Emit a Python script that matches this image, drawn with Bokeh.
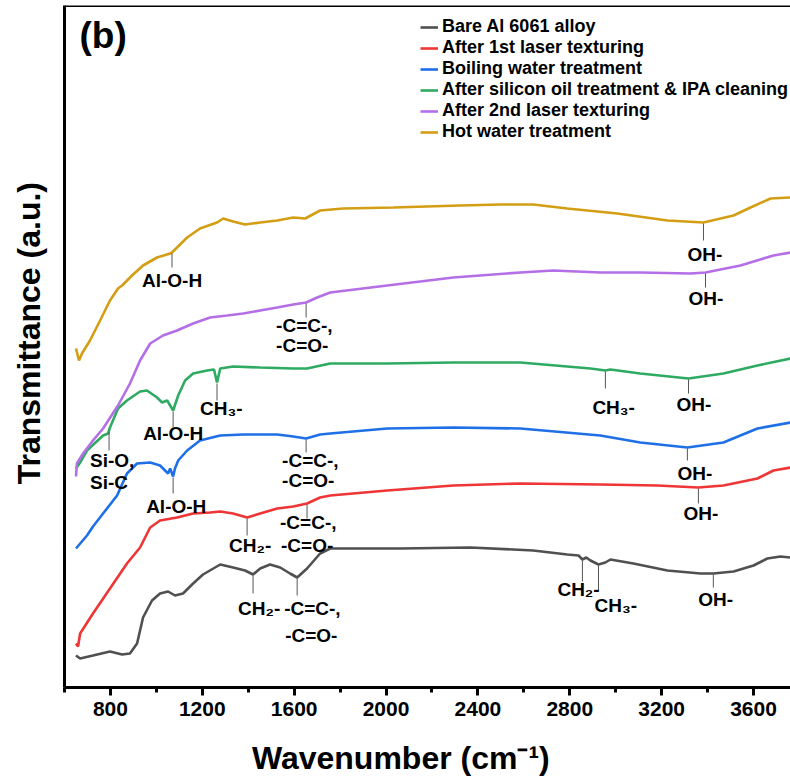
import numpy as np
from bokeh.plotting import figure
from bokeh.models import Range1d, FixedTicker, Label, Legend, LegendItem, Span
from bokeh.embed import file_html
from bokeh.resources import INLINE

# ---------------- data (wavenumber cm-1, transmittance a.u.) ----------------
wn_bare = [650, 668, 724, 798, 851, 885, 916, 942, 981, 1016, 1051, 1081, 1116, 1160, 1203, 1278,
           1334, 1386, 1421, 1452, 1495, 1539, 1582, 1613, 1656, 1713, 1757, 2062, 2367, 2641,
           2789, 2838, 2855, 2872, 2890, 2925, 2955, 2977, 3077, 3225, 3369, 3425, 3513, 3600,
           3660, 3717, 3761]
t_bare = [32, 29, 32, 36, 33, 34, 44, 70, 87, 94, 96, 92, 94, 104, 113, 123,
          120, 117, 113, 119, 123, 120, 114, 110, 119, 134, 139, 139, 140, 137,
          133, 132, 128, 130, 127, 123, 125, 128, 124, 117, 114, 114, 116, 122,
          129, 131, 130]

wn_laser1 = [650, 659, 668, 724, 798, 872, 929, 973, 1016, 1090, 1160, 1234, 1278, 1334, 1395,
             1452, 1526, 1596, 1656, 1713, 1757, 2005, 2293, 2585, 2933, 3181, 3360, 3469, 3617,
             3687, 3761]
t_laser1 = [44, 41, 54, 74, 99, 124, 140, 160, 167, 170, 174, 175, 176, 174, 170,
            174, 179, 181, 184, 190, 192, 197, 202, 204, 203, 202, 200, 202, 209,
            217, 220]

wn_boil = [650, 698, 724, 768, 829, 872, 916, 973, 1016, 1051, 1060, 1073, 1081, 1095, 1134, 1190,
           1278, 1378, 1526, 1596, 1652, 1713, 1757, 2005, 2293, 2585, 2933, 3107, 3312, 3469,
           3617, 3761]
t_boil = [139, 152, 161, 174, 192, 214, 224, 225, 222, 214, 219, 211, 219, 227, 237, 247,
          252, 253, 253, 251, 249, 253, 254, 259, 260, 259, 252, 245, 240, 245,
          259, 265]

wn_silicon = [650, 668, 698, 768, 790, 798, 811, 833, 872, 929, 959, 1003, 1025, 1047, 1073, 1095,
              1125, 1160, 1221, 1251, 1264, 1278, 1334, 1452, 1596, 1656, 1757, 2005, 2293, 2585,
              2890, 2955, 2977, 3107, 3317, 3469, 3617, 3761]
t_silicon = [219, 225, 237, 252, 254, 260, 267, 279, 287, 296, 297, 290, 285, 287, 277, 292,
             307, 314, 317, 318, 305, 319, 321, 320, 319, 319, 324, 324, 325, 325,
             319, 317, 318, 314, 309, 314, 322, 329]

wn_laser2 = [650, 654, 681, 724, 768, 833, 885, 929, 973, 1029, 1090, 1160, 1234, 1308, 1378,
             1452, 1526, 1596, 1652, 1700, 1757, 2005, 2293, 2585, 2728, 2933, 3107, 3325, 3391,
             3543, 3687, 3761]
t_laser2 = [211, 224, 234, 247, 259, 282, 304, 327, 344, 352, 357, 364, 370, 372, 374,
            377, 380, 383, 385, 390, 395, 402, 410, 415, 417, 415, 415, 414, 415,
            422, 432, 435]

wn_hot = [650, 663, 676, 711, 755, 798, 833, 851, 894, 942, 1003, 1060, 1068, 1090, 1134, 1190,
          1264, 1291, 1334, 1386, 1452, 1526, 1596, 1648, 1713, 1813, 2031, 2323, 2497, 2641,
          2789, 3007, 3225, 3382, 3513, 3587, 3674, 3761]
t_hot = [339, 327, 334, 347, 367, 387, 399, 402, 412, 422, 430, 434, 435, 440, 450, 459,
         465, 469, 466, 463, 465, 467, 470, 469, 477, 479, 480, 482, 483, 483,
         479, 474, 467, 465, 472, 480, 489, 490]

series_names = ["Bare Al 6061 alloy", "After 1st laser texturing", "Boiling water treatment",
                "After silicon oil treatment & IPA cleaning", "After 2nd laser texturing",
                "Hot water treatment"]
series_wn = [wn_bare, wn_laser1, wn_boil, wn_silicon, wn_laser2, wn_hot]
series_t = [t_bare, t_laser1, t_boil, t_silicon, t_laser2, t_hot]

x_ticks = [800, 1200, 1600, 2000, 2400, 2800, 3200, 3600]
x_minor = [600, 1000, 1400, 1800, 2200, 2600, 3000, 3400]

x_title = "Wavenumber (cm\u207b\u00b9)"
y_title = "Transmittance (a.u.)"
panel_tag = "(b)"

# band assignments: (series index, wavenumber, label lines)
annot_series = [5, 4, 3, 3, 3, 2, 2, 1, 1, 0, 0, 0, 0, 0, 1, 2, 3, 3, 4, 5]
annot_wn = [1068, 1652, 1264, 1073, 794, 1073, 1652, 1395, 1656, 1421, 1613, 2855, 2925, 3425,
            3360, 3312, 3317, 2955, 3391, 3382]
annot_text = [["Al-O-H"], ["-C=C-,", "-C=O-"], ["CH\u2083-"], ["Al-O-H"], ["Si-O,", "Si-C"],
              ["Al-O-H"], ["-C=C-,", "-C=O-"], ["CH\u2082-"], ["-C=C-,", "-C=O-"], ["CH\u2082-"],
              ["-C=C-,", "-C=O-"], ["CH\u2082-"], ["CH\u2083-"], ["OH-"],
              ["OH-"], ["OH-"], ["OH-"], ["CH\u2083-"], ["OH-"], ["OH-"]]

# ---------------- layout / style (pixels) ----------------
colors = ["#505050", "#ef3535", "#1f6fe6", "#2eaa62", "#b46ee6", "#d39e14"]
annot_len = [15, 15, 18, 17, 20, 17, 14, 18, 15, 19, 18, 22, 26, 14, 16, 13, 15, 18, 15, 18]
annot_dx = [[-30], [-30, -30], [-17], [-30], [-19, -19], [-27], [-24, -24], [-18], [-27, -26],
            [-15], [-13, -12], [-25], [-4], [-15], [-15], [-10], [-12], [-13], [-17], [-16]]
annot_dy = [[28], [23, 43], [26], [23], [30, 52], [30], [22, 42], [28], [19, 42], [34],
            [31, 58], [30], [41], [26], [26], [26], [26], [37], [26], [32]]

FONT = "Liberation Sans"
NBSP = "\u00a0"

p = figure(width=790, height=783, x_range=Range1d(600, 3761), y_range=Range1d(0, 682),
           output_backend="svg", toolbar_location=None,
           min_border_left=64, min_border_right=0, min_border_top=5, min_border_bottom=96)
p.outline_line_color = None
p.grid.visible = False
p.background_fill_color = "white"

renderers = []
for wn, t, c in zip(series_wn, series_t, colors):
    r = p.line(wn, t, line_color=c, line_width=2.6)
    renderers.append(r)

# band markers
seg_x, seg_y0, seg_y1 = [], [], []
for i, (si, w) in enumerate(zip(annot_series, annot_wn)):
    tc = float(np.interp(w, series_wn[si], series_t[si]))
    seg_x.append(w)
    seg_y0.append(tc - 1)
    seg_y1.append(tc - annot_len[i])
    for txt, dx, dy in zip(annot_text[i], annot_dx[i], annot_dy[i]):
        p.add_layout(Label(x=w, y=tc - dy, x_offset=dx, text=txt, text_font=FONT,
                           text_font_style="bold", text_font_size="19px",
                           text_align="left", text_baseline="middle", text_color="black"))
p.segment(x0=seg_x, y0=seg_y0, x1=seg_x, y1=seg_y1, line_color="#555555", line_width=1)

# axes
xa = p.xaxis[0]
xa.ticker = FixedTicker(ticks=x_ticks, minor_ticks=x_minor)
xa.axis_line_width = 3
xa.major_tick_line_width = 3
xa.minor_tick_line_width = 3
xa.major_tick_out = 8
xa.major_tick_in = 0
xa.minor_tick_out = 5
xa.minor_tick_in = 0
xa.major_label_text_font = FONT
xa.major_label_text_font_style = "bold"
xa.major_label_text_font_size = "21px"
xa.major_label_text_color = "black"
xa.major_label_standoff = 6
xa.axis_label = x_title + NBSP * 6
xa.axis_label_text_font = FONT
xa.axis_label_text_font_style = "bold"
xa.axis_label_text_font_size = "32px"
xa.axis_label_text_color = "black"
xa.axis_label_standoff = 21

ya = p.yaxis[0]
ya.ticker = FixedTicker(ticks=[])
ya.axis_line_width = 3
ya.major_tick_out = 0
ya.minor_tick_out = 0
ya.axis_label = NBSP * 3 + y_title
ya.axis_label_text_font = FONT
ya.axis_label_text_font_style = "bold"
ya.axis_label_text_font_size = "32px"
ya.axis_label_text_color = "black"
ya.axis_label_standoff = 18

p.add_layout(Span(location=682, dimension="width", line_color="black", line_width=3))

# panel tag
p.add_layout(Label(x=15, y=652, x_units="screen", y_units="screen", text=panel_tag,
                   text_font=FONT, text_font_style="bold", text_font_size="37px",
                   text_baseline="middle", text_color="black"))

legend = Legend(items=[LegendItem(label=n, renderers=[r]) for n, r in zip(series_names, renderers)],
                location=(356, 545), padding=0, margin=0, spacing=0,
                glyph_width=18, glyph_height=20, label_height=20, label_standoff=4,
                label_text_font=FONT, label_text_font_style="bold", label_text_font_size="18px",
                label_text_color="black",
                border_line_color=None, background_fill_alpha=0)
p.add_layout(legend)

open("out.html", "w").write(file_html(p, INLINE))
